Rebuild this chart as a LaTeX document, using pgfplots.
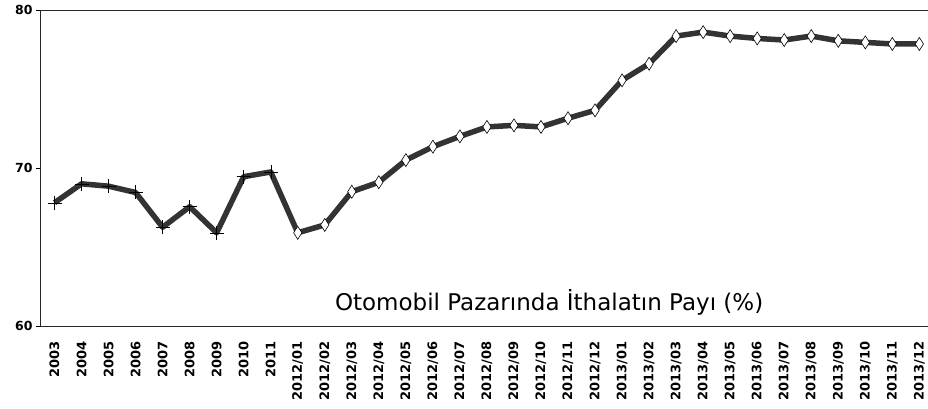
\documentclass[border=0pt]{standalone}
\usepackage{fontspec}
\setmainfont{DejaVu Sans}
\usepackage{pgfplots}
\pgfplotsset{compat=1.18}
\begin{document}
\begin{tikzpicture}
\pgfplotstableread{
x y
0 67.8
1 69.0
2 68.85
3 68.45
4 66.25
5 67.55
6 65.9
7 69.45
8 69.75
9 65.9
10 66.4
11 68.5
12 69.1
13 70.5
14 71.35
15 72.0
16 72.6
17 72.7
18 72.6
19 73.15
20 73.65
21 75.55
22 76.6
23 78.35
24 78.6
25 78.35
26 78.2
27 78.1
28 78.35
29 78.05
30 77.95
31 77.85
32 77.85
}\data
\pgfplotstableread{
x y
0 67.8
1 69.0
2 68.85
3 68.45
4 66.25
5 67.55
6 65.9
7 69.45
8 69.75
}\years
\pgfplotstableread{
x y
9 65.9
10 66.4
11 68.5
12 69.1
13 70.5
14 71.35
15 72.0
16 72.6
17 72.7
18 72.6
19 73.15
20 73.65
21 75.55
22 76.6
23 78.35
24 78.6
25 78.35
26 78.2
27 78.1
28 78.35
29 78.05
30 77.95
31 77.85
32 77.85
}\months
\begin{axis}[
  scale only axis,
  width=887pt, height=316pt,
  at={(0,0)}, anchor=south west,
  xmin=-0.5, xmax=32.32,
  ymin=60, ymax=80,
  axis x line*=box,
  axis y line*=left,
  axis line style={line width=1pt, color=black!85},
  ytick={60,70,80},
  xtick={0,...,32},
  xticklabels={2003,2004,2005,2006,2007,2008,2009,2010,2011,2012/01,2012/02,2012/03,2012/04,2012/05,2012/06,2012/07,2012/08,2012/09,2012/10,2012/11,2012/12,2013/01,2013/02,2013/03,2013/04,2013/05,2013/06,2013/07,2013/08,2013/09,2013/10,2013/11,2013/12},
  x tick label style={rotate=90, anchor=east, font=\bfseries\fontsize{13}{14}\selectfont, xshift=-7pt},
  y tick label style={font=\bfseries\fontsize{12.5}{14}\selectfont},
  /pgf/number format/assume math mode=true,
  xtick style={draw=none},
  minor xtick={-0.5,0.5,...,32.5},
  minor tick length=5pt,
  major tick length=5pt,
  tick align=outside,
  minor tick style={color=black, line width=0.8pt},
  ytick style={color=black, line width=0.8pt},
  clip=false,
]
\addplot[color=black!80, line width=5.5pt, line join=round, no markers] table[x=x,y=y] {\data};
\addplot[only marks, mark=+, mark size=7pt, mark options={line width=0.45pt, black}] table[x=x,y=y] {\years};
\addplot[only marks, mark=diamond*, mark size=6.5pt, mark options={xscale=0.85, fill=white, draw=black, line width=0.6pt}] table[x=x,y=y] {\months};
\node[anchor=base, font=\fontsize{23}{27}\selectfont] at (axis cs:18.3,60.95) {Otomobil Pazarında İthalatın Payı (\%)};
\end{axis}
\pgfresetboundingbox
\path (-41pt,-82pt) rectangle (887pt,326pt);
\end{tikzpicture}
\end{document}
